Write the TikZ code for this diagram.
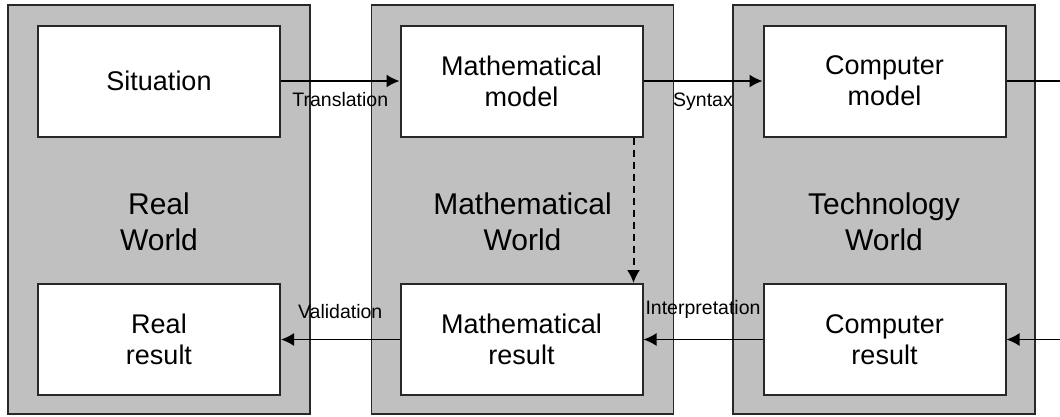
\documentclass[tikz,border=0pt]{standalone}
\usepackage{fontspec}
\setmainfont{Liberation Sans}
\usetikzlibrary{arrows.meta}
\definecolor{panelgray}{RGB}{192,192,192}
\definecolor{inkline}{RGB}{40,40,40}
\newcommand{\boxFont}{\fontsize{27}{31}\selectfont}
\newcommand{\worldFont}{\fontsize{30}{36}\selectfont}
\newcommand{\tagFont}{\fontsize{19.5}{22}\selectfont}
\tikzset{
  worldpanel/.style={draw=inkline, line width=1.6pt, fill=panelgray, minimum width=302pt, minimum height=409pt, inner sep=0pt},
  stagebox/.style={draw=inkline, line width=2pt, fill=white, minimum width=242pt, minimum height=111pt, inner sep=0pt, align=center, font=\boxFont},
  worldlabel/.style={align=center, font=\worldFont, inner sep=0pt},
  steptag/.style={font=\tagFont, inner sep=2pt},
  flow/.style={line width=1.6pt, -{Latex[length=13pt,width=13pt]}}
}
\begin{document}
\begin{tikzpicture}[x=1pt,y=-1pt]
\useasboundingbox (0,0) rectangle (1060,416);
\node[worldpanel] (realw) at (159,209.5) {};
\node[worldpanel] (mathw) at (522.5,209.5) {};
\node[worldpanel] (techw) at (884,209.5) {};
\node[worldlabel] (reallab) at (159,222) {Real\\World};
\node[worldlabel] (mathlab) at (522.5,222) {Mathematical\\World};
\node[worldlabel] (techlab) at (884,222) {Technology\\World};
\node[stagebox] (situ) at (159,81) {Situation};
\node[stagebox] (mmodel) at (521.5,81) {Mathematical\\model};
\node[stagebox] (cmodel) at (884.5,81) {Computer\\model};
\node[stagebox] (rres) at (159,339.5) {Real\\result};
\node[stagebox] (mres) at (521.5,339.5) {Mathematical\\result};
\node[stagebox] (cres) at (884.5,339.5) {Computer\\result};
\coordinate (outtop) at (1060,81);
\coordinate (inbot) at (1060,339.5);
% step labels sit off the arrows, as in the source
\draw[flow] (situ) -- node[steptag, below=9pt] {Translation} (mmodel);
\draw[flow] (mmodel) -- node[steptag, below=9pt] {Syntax} (cmodel);
\draw[line width=1.6pt] (cmodel) -- (outtop);
\draw[flow] (inbot) -- (cres);
\draw[flow] (cres) -- node[steptag, above=18pt] {Interpretation} (mres);
\draw[flow] (mres) -- node[steptag, above=18pt] {Validation} (rres);
\draw[flow, line width=2pt, dash pattern=on 7pt off 5pt] ([xshift=-10pt]mmodel.south east) -- ([xshift=-10pt]mres.north east);
\end{tikzpicture}
\end{document}
